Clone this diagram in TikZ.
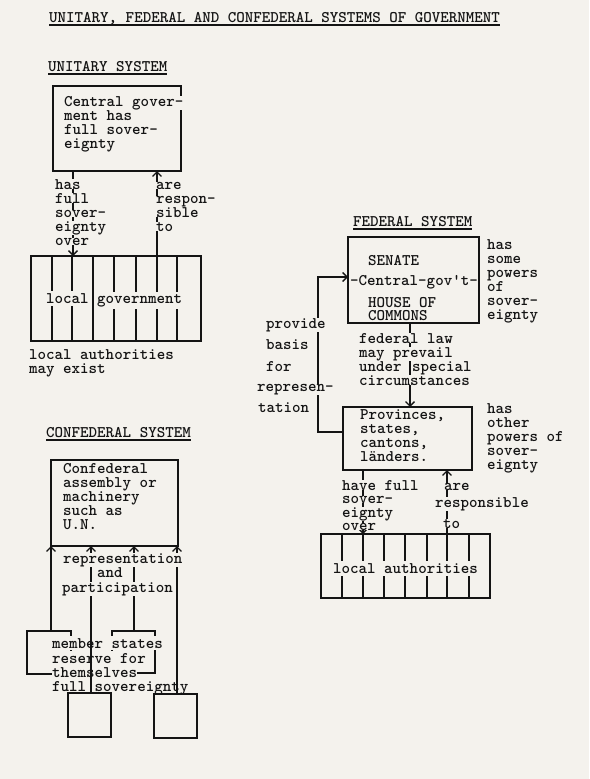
\documentclass[tikz,border=0pt]{standalone}
\usepackage{fontspec}
\usetikzlibrary{arrows.meta}
\definecolor{paper}{RGB}{244,242,237}
\definecolor{ink}{RGB}{20,20,20}
\newcommand\tyfont{\ttfamily\bfseries\fontsize{16.2}{14}\selectfont}
\tikzset{
  ln/.style={line width=1.4pt, draw=ink},
  arr/.style={ln, -{Straight Barb[length=4.5pt,width=9pt,line width=1.3pt]}},
  bx/.style={draw=ink, line width=1.4pt, rectangle, inner sep=0pt, outer sep=0pt, anchor=north west},
  tx/.style={anchor=base west, inner xsep=0pt, inner ysep=0.2pt, font=\tyfont, text=ink, fill=paper},
  ul/.style={line width=1.2pt, draw=ink},
}
\begin{document}
\begin{tikzpicture}[x=1pt,y=-1pt]
\fill[paper] (0,0) rectangle (589,779);
\useasboundingbox (0,0) rectangle (589,779);

% ---------- title ----------
\node[tx] (title) at (49,22) {UNITARY, FEDERAL AND CONFEDERAL SYSTEMS OF GOVERNMENT};
\draw[ul] ([yshift=-3pt]title.base west) -- ([yshift=-3pt]title.base east);

% ---------- unitary ----------
\node[tx] (hU) at (48,71) {UNITARY SYSTEM};
\draw[ul] ([yshift=-3pt]hU.base west) -- ([yshift=-3pt]hU.base east);
\node[bx, minimum width=128pt, minimum height=85pt] (cg) at (53,86) {};
\node[bx, minimum width=170pt, minimum height=85pt] (lg) at (31,256) {};
\foreach \xx in {52,72,93,114,136,157,177}
  \draw[ln] (lg.north -| \xx,0) -- (lg.south -| \xx,0);
\draw[arr] (cg.south -| 73,0) -- (lg.north -| 73,0);
\draw[arr] (lg.north -| 157,0) -- (cg.south -| 157,0);
\node[tx] (u1) at (64,106) {Central gover-};
\node[tx] (u2) at (64,120) {ment has};
\node[tx] (u3) at (64,134) {full sover-};
\node[tx] (u4) at (64,148) {eignty};
\node[tx] (ha1) at (55,189) {has};
\node[tx] (ha2) at (55,203) {full};
\node[tx] (ha3) at (55,217) {sover-};
\node[tx] (ha4) at (55,231) {eignty};
\node[tx] (ha5) at (55,245) {over};
\node[tx] (ar1) at (156,189) {are};
\node[tx] (ar2) at (156,203) {respon-};
\node[tx] (ar3) at (156,217) {sible};
\node[tx] (ar4) at (156,231) {to};
\node[tx, inner ysep=2.5pt] (lg1) at (46,303) {local};
\node[tx, inner ysep=2.5pt] (lg2) at (97,303) {government};
\node[tx] (la1) at (29,359) {local authorities};
\node[tx] (la2) at (29,373) {may exist};

% ---------- federal ----------
\node[tx] (hF) at (353,226) {FEDERAL SYSTEM};
\draw[ul] ([yshift=-3pt]hF.base west) -- ([yshift=-3pt]hF.base east);
\node[bx, minimum width=131pt, minimum height=86pt] (fg) at (348,237) {};
\node[bx, minimum width=129pt, minimum height=63pt] (pv) at (343,407) {};
\node[bx, minimum width=169pt, minimum height=64pt] (la) at (321,534) {};
\foreach \xx in {342,363,384,405,427,447,469}
  \draw[ln] (la.north -| \xx,0) -- (la.south -| \xx,0);
\draw[arr] (pv.west |- 0,432) -- (318,432) -- (318,277) -- (fg.west |- 0,277);
\draw[arr] (fg.south -| 410,0) -- (pv.north -| 410,0);
\draw[arr] (pv.south -| 363,0) -- (la.north -| 363,0);
\draw[arr] (la.north -| 447,0) -- (pv.south -| 447,0);
\node[tx] (f1) at (368,265) {SENATE};
\node[tx] (f2) at (350,285) {-Central-gov't-};
\node[tx] (f3) at (368,307) {HOUSE OF};
\node[tx] (f4) at (368,320) {COMMONS};
\node[tx] (s1) at (487,249) {has};
\node[tx] (s2) at (487,263) {some};
\node[tx] (s3) at (487,277) {powers};
\node[tx] (s4) at (487,291) {of};
\node[tx] (s5) at (487,305) {sover-};
\node[tx] (s6) at (487,319) {eignty};
\node[tx] (p1) at (266,328) {provide};
\node[tx] (p2) at (266,349) {basis};
\node[tx] (p3) at (266,371) {for};
\node[tx] (p4) at (257,391) {represen-};
\node[tx] (p5) at (258,412) {tation};
\node[tx] (fl1) at (359,343) {federal law};
\node[tx] (fl2) at (359,357) {may prevail};
\node[tx] (fl3) at (359,371) {under};
\node[tx] (fl4) at (412,371) {special};
\node[tx] (fl5) at (359,385) {circumstances};
\node[tx] (pv1) at (360,419) {Provinces,};
\node[tx] (pv2) at (360,433) {states,};
\node[tx] (pv3) at (360,447) {cantons,};
\node[tx] (pv4) at (360,461) {länders.};
\node[tx] (o1) at (487,413) {has};
\node[tx] (o2) at (487,427) {other};
\node[tx] (o3) at (487,441) {powers of};
\node[tx] (o4) at (487,455) {sover-};
\node[tx] (o5) at (487,469) {eignty};
\node[tx] (hv1) at (342,490) {have full};
\node[tx] (hv2) at (342,503) {sover-};
\node[tx] (hv3) at (342,517) {eignty};
\node[tx] (hv4) at (342,530) {over};
\node[tx] (re1) at (444,490) {are};
\node[tx] (re2) at (435,507) {responsible};
\node[tx] (re3) at (443,528) {to};
\node[tx, inner ysep=2.5pt] (lat) at (333,573) {local authorities};

% ---------- confederal ----------
\node[tx] (hC) at (46,437) {CONFEDERAL SYSTEM};
\draw[ul] ([yshift=-3pt]hC.base west) -- ([yshift=-3pt]hC.base east);
\node[bx, minimum width=127pt, minimum height=86pt] (cf) at (51,460) {};
\node[bx, minimum width=44pt, minimum height=43pt] (m1) at (27,631) {};
\node[bx, minimum width=43pt, minimum height=42pt] (m2) at (112,631) {};
\node[tx, inner ysep=2pt] (ms1) at (52,648) {member states};
\node[tx, inner ysep=2pt] (ms2) at (52,663) {reserve for};
\node[tx, inner ysep=2pt] (ms3) at (52,677) {themselves};
\node[tx] (ms4) at (52,691) {full sovereignty};
\node[bx, minimum width=43pt, minimum height=44pt] (m3) at (68,693) {};
\node[bx, minimum width=43pt, minimum height=44pt] (m4) at (154,694) {};
\draw[arr] (m1.north -| cf.south west) -- (cf.south west);
\draw[arr] (m3.north -| 91,0) -- (cf.south -| 91,0);
\draw[arr] (m2.north -| 134,0) -- (cf.south -| 134,0);
\draw[arr] (m4.north -| 177,0) -- (cf.south -| 177,0);
\node[tx] (c1) at (63,473) {Confederal};
\node[tx] (c2) at (63,487) {assembly or};
\node[tx] (c3) at (63,501) {machinery};
\node[tx] (c4) at (63,515) {such as};
\node[tx] (c5) at (63,529) {U.N.};
\node[tx] (r1) at (63,563) {representation};
\node[tx] (r2) at (97,577) {and};
\node[tx] (r3) at (62,592) {participation};
\end{tikzpicture}
\end{document}
